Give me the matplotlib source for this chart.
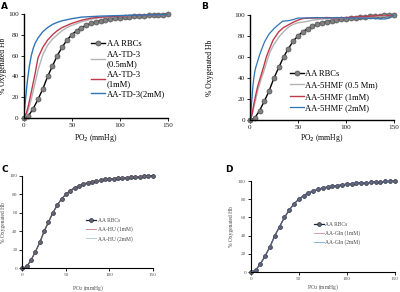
import matplotlib
matplotlib.use("Agg")
import matplotlib.pyplot as plt

plt.rcParams['font.family'] = ['Liberation Serif', 'DejaVu Serif']

# ---- data ----
aa_x = [0, 5, 10, 15, 20, 25, 30, 35, 40, 45, 50, 55, 60, 65, 70, 75, 80, 85, 90, 95,
        100, 105, 110, 115, 120, 125, 130, 135, 140, 145, 150]
aa_y = [0, 2, 9, 18, 28, 40, 50, 60, 68, 75, 80, 84, 87, 89, 91, 92.5, 93.5, 94.5, 95, 96,
        96.5, 97, 97.5, 98, 98, 98.5, 99, 99, 99.5, 99.5, 100]

# Panel A: TD-3
td_x = [0, 3, 5, 8, 10, 12, 15, 20, 25, 30, 35, 40, 45, 50, 60, 70, 80, 100, 120, 150]
td05_y = [0, 3, 8, 18, 26, 34, 46, 61, 70, 76, 80, 84, 87, 89, 92.5, 95, 96.5, 98, 99, 99.5]
td1_y = [0, 5, 12, 25, 34, 43, 58, 68, 75, 80, 84, 87, 89, 91, 94, 96, 97, 98, 99, 99.5]
td2_x = [0, 2, 4, 6, 8, 10, 12, 15, 20, 25, 30, 35, 40, 50, 60, 70, 80, 100, 120, 150]
td2_y = [0, 18, 36, 50, 60, 67, 72, 77, 83, 87, 90, 92, 93.5, 95.5, 97, 97.5, 98, 98.5, 99, 99.5]

# Panel B: 5HMF
hmf05_x = [0, 2, 4, 6, 8, 10, 12, 15, 18, 21, 25, 31, 35, 41, 45, 50, 58, 65, 75, 85,
           100, 110, 120, 130, 140, 150]
hmf05_y = [0, 4, 12, 20, 28, 34, 40, 48, 57, 65, 72, 80, 84, 89, 91, 92.5, 93.6, 95, 96, 96.5,
           97, 97.5, 98, 98.5, 99, 100]
hmf1_x = [0, 2, 4, 6, 8, 10, 12, 14, 17, 20, 24, 27, 30, 35, 38, 41, 45, 50, 55, 60, 70,
          80, 90, 100, 110, 120, 130, 140, 145, 150]
hmf1_y = [0, 5, 15, 24, 32, 38, 44, 50, 60, 67, 76, 80, 84, 88, 89.5, 91, 93, 95, 96.5, 97, 97,
          97.5, 97, 97.5, 98, 98.5, 99, 100, 99.5, 100]
hmf2_x = [0, 1, 2, 3, 4, 5, 6, 8, 10, 12, 15, 18, 20, 25, 30, 34, 40, 45, 50, 60, 70, 80,
          90, 100, 110, 120, 130, 140, 145, 150]
hmf2_y = [0, 8, 20, 32, 40, 46, 50, 56, 62, 67, 74, 79, 82, 87, 91, 94, 94.5, 95.5, 97, 97,
          97.5, 97, 97.5, 97, 97, 97, 96.5, 96, 97, 100]

# Panels C and D: treated curves overlap the untreated curve
hu1_y = list(aa_y)
hu2_y = list(aa_y)
gln1_y = list(aa_y)
gln2_y = list(aa_y)

xticks = [0, 50, 100, 150]
yticks = [0, 20, 40, 60, 80, 100]

fig = plt.figure(figsize=(4.0, 2.92), dpi=100)

def style_axes(ax, fs, tickcol, lw):
    ax.set_xlim(0, 150)
    ax.set_ylim(0, 100)
    ax.set_xticks(xticks)
    ax.set_yticks(yticks)
    for s in ['top', 'right']:
        ax.spines[s].set_visible(False)
    for s in ['left', 'bottom']:
        ax.spines[s].set_linewidth(lw)
        ax.spines[s].set_color('black')
    ax.tick_params(axis='both', labelsize=fs, length=2, width=0.6, pad=1.5,
                   labelcolor=tickcol, color='black')

RED = '#c0394b'
BLUE = '#2e75b6'
GREY = '#b3b3b3'

# ---------- Panel A ----------
axA = fig.add_axes([0.059, 0.596, 0.361, 0.356])
style_axes(axA, 5.2, '#222222', 1.0)
axA.plot(aa_x, aa_y, '-o', color='black', lw=1.0, ms=3.6, mfc='#808080', mec='#505050',
         mew=0.5, label='AA RBCs', clip_on=False, zorder=2)
axA.plot(td_x, td05_y, color=GREY, lw=1.0, label='AA-TD-3\n(0.5mM)')
axA.plot(td_x, td1_y, color=RED, lw=1.0, label='AA-TD-3\n(1mM)')
axA.plot(td2_x, td2_y, color=BLUE, lw=1.0, label='AA-TD-3(2mM)')
axA.set_xlabel('PO$_2$ (mmHg)', fontsize=5.5)
axA.set_ylabel('% Oxygenated Hb', fontsize=5.5)
axA.xaxis.set_label_coords(0.5, -0.135)
axA.yaxis.set_label_coords(-0.112, 0.5)
axA.legend(loc='upper left', bbox_to_anchor=(0.44, 0.79), frameon=False, fontsize=6.2,
           handlelength=1.6, handletextpad=0.2, labelspacing=0.3, borderpad=0)
fig.text(0.003, 0.978, 'A', fontsize=6.5, fontweight='bold', family='DejaVu Sans',
         va='center')

# ---------- Panel B ----------
axB = fig.add_axes([0.625, 0.589, 0.36, 0.36])
style_axes(axB, 5.2, '#222222', 1.0)
axB.plot(aa_x, aa_y, '-o', color='black', lw=1.0, ms=3.6, mfc='#808080', mec='#505050',
         mew=0.5, label='AA RBCs', clip_on=False, zorder=2)
axB.plot(hmf05_x, hmf05_y, color=GREY, lw=1.0, label='AA-5HMF (0.5 Mm)')
axB.plot(hmf1_x, hmf1_y, color=RED, lw=1.0, label='AA-5HMF (1mM)')
axB.plot(hmf2_x, hmf2_y, color=BLUE, lw=0.9, label='AA-5HMF (2mM)')
axB.set_xlabel('PO$_2$ (mmHg)', fontsize=5.5)
axB.set_ylabel('% Oxygenated Hb', fontsize=5.5)
axB.xaxis.set_label_coords(0.5, -0.115)
axB.yaxis.set_label_coords(-0.25, 0.5)
axB.legend(loc='upper left', bbox_to_anchor=(0.25, 0.52), frameon=False, fontsize=6.1,
           handlelength=1.6, handletextpad=0.2, labelspacing=0.42, borderpad=0)
fig.text(0.5035, 0.978, 'B', fontsize=6.5, fontweight='bold', family='DejaVu Sans',
         va='center')

# ---------- Panel C ----------
axC = fig.add_axes([0.056, 0.081, 0.326, 0.317])
style_axes(axC, 3.8, '#555555', 0.8)
axC.plot(aa_x, aa_y, '-o', color='#1f2535', lw=0.9, ms=2.8, mfc='#5d6575', mec='#2a2f3c',
         mew=0.5, label='AA RBCs', clip_on=False, zorder=2)
axC.plot(aa_x, hu1_y, color='#b0404a', lw=0.7, alpha=0.6, label='AA-HU (1mM)', zorder=3)
axC.plot(aa_x, hu2_y, color='#3f8ea3', lw=0.7, alpha=0.4, label='AA-HU (2mM)', zorder=3)
axC.set_xlabel('PO$_2$ (mmHg)', fontsize=4.0, color='#444444')
axC.set_ylabel('% Oxygenated Hb', fontsize=4.0, color='#444444')
axC.xaxis.set_label_coords(0.5, -0.165)
axC.yaxis.set_label_coords(-0.122, 0.5)
axC.legend(loc='upper left', bbox_to_anchor=(0.47, 0.57), frameon=False, fontsize=4.0,
           handlelength=1.8, handletextpad=0.2, labelspacing=0.6, borderpad=0,
           labelcolor='#444444')
fig.text(0.005, 0.418, 'C', fontsize=6.5, fontweight='bold', family='DejaVu Sans',
         va='center')

# ---------- Panel D ----------
axD = fig.add_axes([0.627, 0.068, 0.36, 0.312])
style_axes(axD, 3.8, '#555555', 0.8)
axD.plot(aa_x, aa_y, '-o', color='#1f2535', lw=0.9, ms=2.8, mfc='#5d6575', mec='#2a2f3c',
         mew=0.5, label='AA RBCs', clip_on=False, zorder=2)
axD.plot(aa_x, gln1_y, color='#b0404a', lw=0.7, alpha=0.5, label='AA-Gln (1mM)', zorder=3)
axD.plot(aa_x, gln2_y, color='#3d7fb8', lw=0.7, alpha=0.6, label='AA-Gln (2mM)', zorder=3)
axD.set_xlabel('PO$_2$ (mmHg)', fontsize=4.0, color='#444444')
axD.set_ylabel('% Oxygenated Hb', fontsize=4.0, color='#444444')
axD.xaxis.set_label_coords(0.5, -0.115)
axD.yaxis.set_label_coords(-0.12, 0.5)
axD.legend(loc='upper left', bbox_to_anchor=(0.42, 0.58), frameon=False, fontsize=4.0,
           handlelength=1.8, handletextpad=0.2, labelspacing=0.6, borderpad=0,
           labelcolor='#444444')
fig.text(0.5625, 0.418, 'D', fontsize=6.5, fontweight='bold', family='DejaVu Sans',
         va='center')

fig.savefig('out.png', dpi=100)
